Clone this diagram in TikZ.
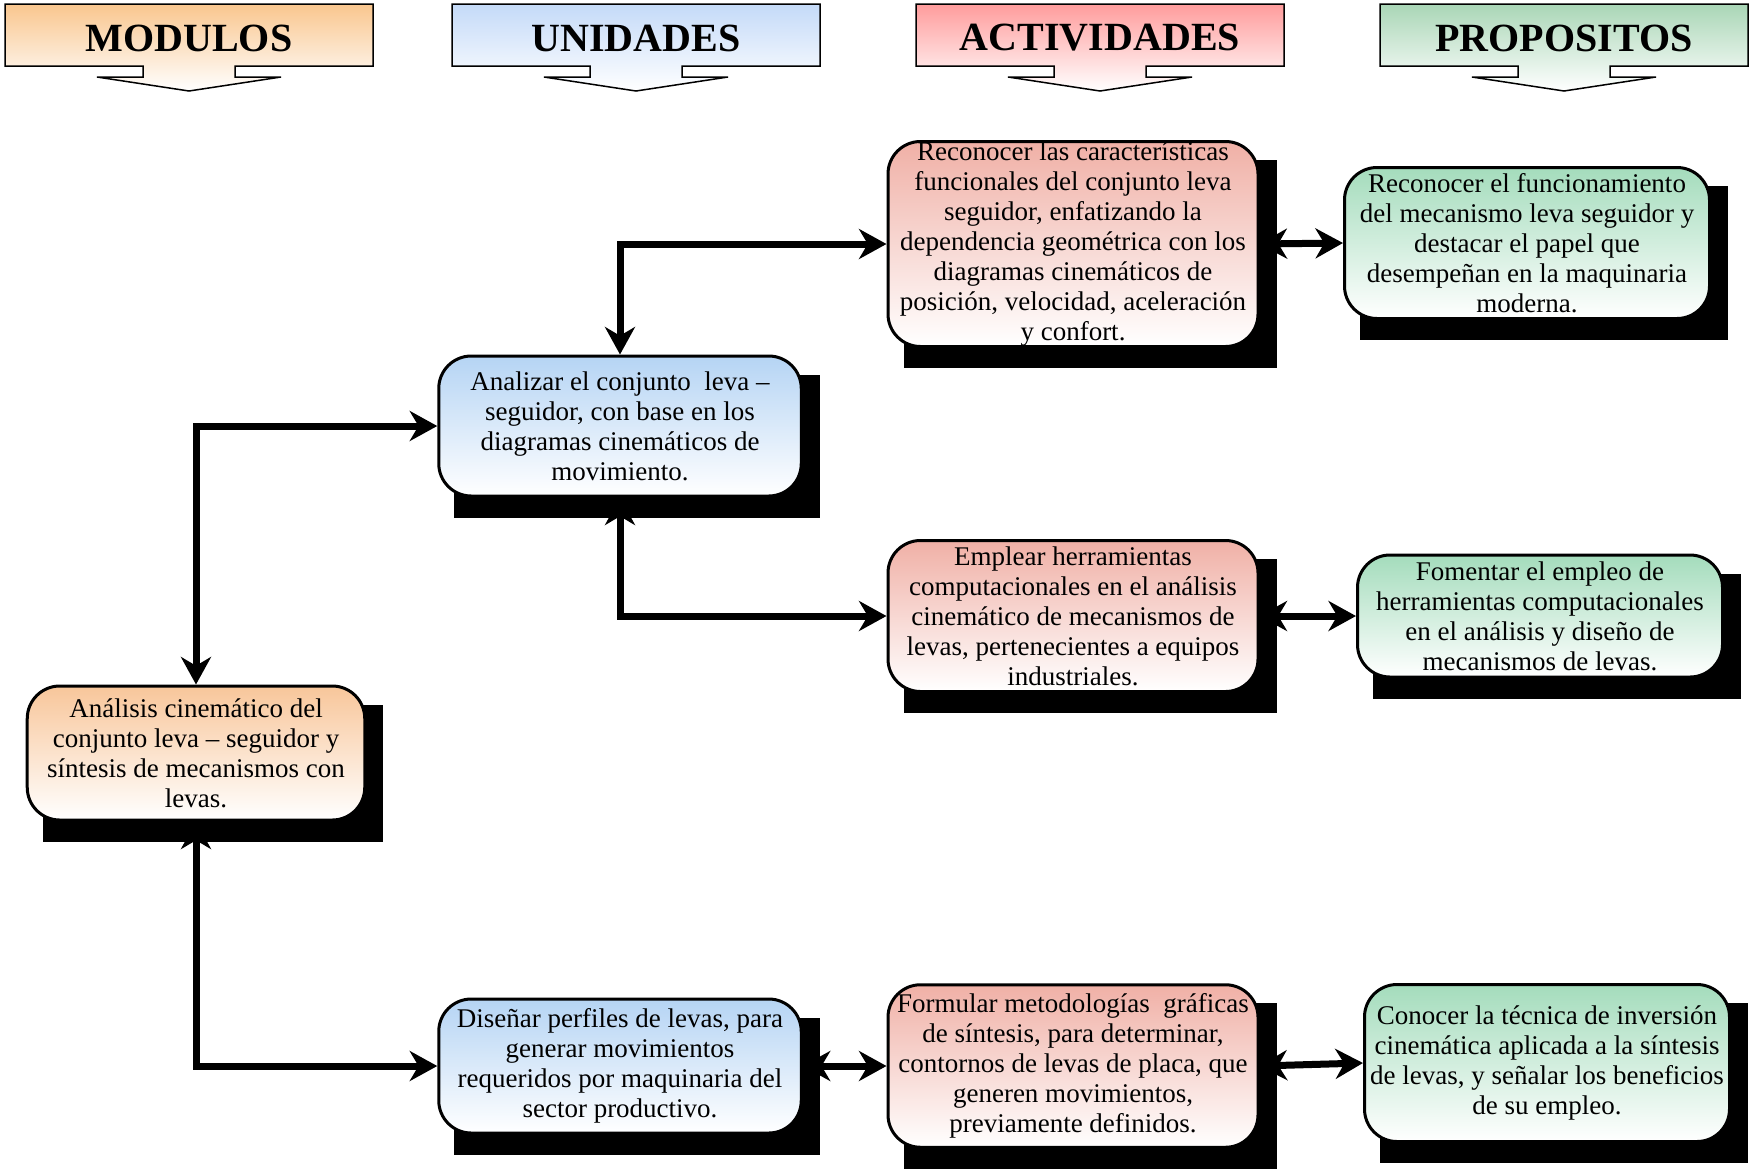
\documentclass[tikz,border=0pt]{standalone}
\usepackage{fontspec}
\setmainfont{Liberation Serif}
\usetikzlibrary{arrows.meta, backgrounds, calc}
\definecolor{modhead}{HTML}{F9C68E}
\definecolor{unihead}{HTML}{C4DAF8}
\definecolor{acthead}{HTML}{FF9C9C}
\definecolor{prophead}{HTML}{A9D6B6}
\definecolor{modfill}{HTML}{F8C69A}
\definecolor{unifill}{HTML}{B5D4F4}
\definecolor{actfill}{HTML}{F0B0A6}
\definecolor{propfill}{HTML}{A4DCBC}

\begin{document}
\begin{tikzpicture}[
    x=0.4pt, y=-0.4pt,
    every node/.style={font=\fontsize{10.8}{12}\selectfont},
    >={Stealth[length=11pt, width=12pt, inset=3.5pt]},
    headshape/.style={draw=black, line width=0.6pt, bottom color=white},
    headtext/.style={font=\fontsize{16}{18}\selectfont\bfseries},
    box/.style={draw=black, line width=1.2pt, rounded corners=13pt, align=center,
                inner sep=0pt, bottom color=white},
    modbox/.style={box, top color=modfill, minimum width=135pt, minimum height=53.6pt},
    unibox/.style={box, top color=unifill, minimum width=145pt, minimum height=53.6pt},
    actbox/.style={box, top color=actfill, minimum width=148pt},
    propbox/.style={box, top color=propfill, minimum width=146pt},
    link/.style={<->, line width=2.8pt},
]
\useasboundingbox (0,0) rectangle (1754,1168);

% --- Headers ---
\foreach \cx/\htitle/\hcol in {189/MODULOS/modhead, 636/UNIDADES/unihead,
                               1100/ACTIVIDADES/acthead, 1564/PROPOSITOS/prophead} {
  \draw[headshape, top color=\hcol] (\cx-184,4) -- (\cx+184,4) -- (\cx+184,66)
      -- (\cx+46,66) -- (\cx+46,77) -- (\cx+92,77) -- (\cx,91) -- (\cx-92,77)
      -- (\cx-46,77) -- (\cx-46,66) -- (\cx-184,66) -- cycle;
  \node[headtext] (head-\htitle) at (\cx,38) {\htitle};
}

% --- Modulo ---
\node[modbox] (modulo) at (196,753)
  {Análisis cinemático del\\conjunto leva – seguidor y\\síntesis de mecanismos con\\levas.};

% --- Unidades ---
\node[unibox, minimum height=56pt] (unidad1) at (620,426)
  {Analizar el conjunto \ leva –\\seguidor, con base en los\\diagramas cinemáticos de\\movimiento.};
\node[unibox] (unidad2) at (620,1066)
  {Diseñar perfiles de levas, para\\generar movimientos\\requeridos por maquinaria del\\sector productivo.};

% --- Actividades ---
\node[actbox, minimum height=82pt] (activ1) at (1073,244)
  {Reconocer las características\\funcionales del conjunto leva\\seguidor, enfatizando la\\dependencia geométrica con los\\diagramas cinemáticos de\\posición, velocidad, aceleración\\y confort.};
\node[actbox, minimum height=60.4pt] (activ2) at (1073,616)
  {Emplear herramientas\\computacionales en el análisis\\cinemático de mecanismos de\\levas, pertenecientes a equipos\\industriales.};
\node[actbox, minimum height=65pt] (activ3) at (1073,1066)
  {Formular metodologías \ gráficas\\de síntesis, para determinar,\\contornos de levas de placa, que\\generen movimientos,\\previamente definidos.};

% --- Propositos ---
\node[propbox, minimum height=60.4pt] (prop1) at (1527,243)
  {Reconocer el funcionamiento\\del mecanismo leva seguidor y\\destacar el papel que\\desempeñan en la maquinaria\\moderna.};
\node[propbox, minimum height=48.8pt] (prop2) at (1540,616)
  {Fomentar el empleo de\\herramientas computacionales\\en el análisis y diseño de\\mecanismos de levas.};
\node[propbox, minimum height=62.8pt] (prop3) at (1547,1063)
  {Conocer la técnica de inversión\\cinemática aplicada a la síntesis\\de levas, y señalar los beneficios\\de su empleo.};

% --- Connectors, then shadows over their tails ---
\begin{scope}[on background layer]
  \draw[link] (modulo.north) |- (unidad1.west);
  \draw[link] (modulo.south) |- (unidad2.west);
  \draw[link] (unidad1.north) |- (activ1.west);
  \draw[link] (unidad1.south) |- (activ2.west);
  \draw[link] (unidad2.east) -- (activ3.west);
  \draw[link] (activ1.east) -- (prop1.west);
  \draw[link] (activ2.east) -- (prop2.west);
  \draw[link] (activ3.east) -- (prop3.west);
  \foreach \n in {modulo, unidad1, unidad2, activ1, activ2, activ3, prop1, prop2, prop3}
    \fill[black] ([shift={(17,20)}]\n.north west) rectangle ([shift={(17,20)}]\n.south east);
\end{scope}
\end{tikzpicture}
\end{document}
